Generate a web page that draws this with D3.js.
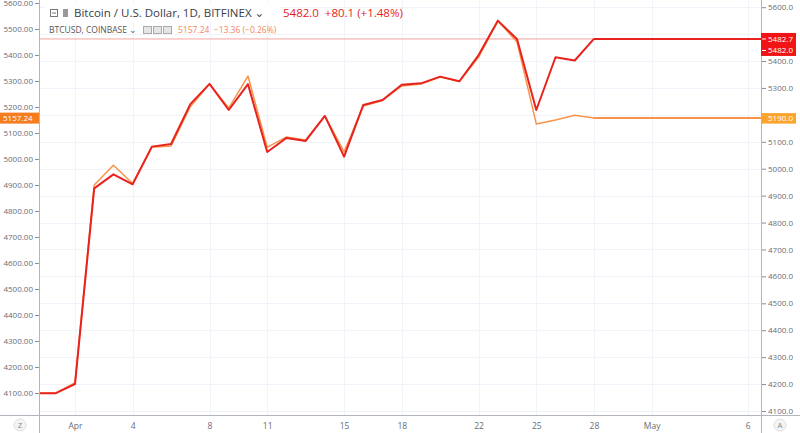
<!DOCTYPE html>
<html><head><meta charset="utf-8">
<script src="https://cdnjs.cloudflare.com/ajax/libs/d3/7.8.5/d3.min.js"></script>
<style>
html,body{margin:0;padding:0;background:#fff;}
svg{display:block;font-family:"Open Sans","DejaVu Sans",sans-serif;}
</style></head>
<body>
<svg id="chart" width="800" height="433"></svg>
<script>
// ---- data ----
const dates = ["2019-03-30","2019-03-31","2019-04-01","2019-04-02","2019-04-03","2019-04-04","2019-04-05","2019-04-06","2019-04-07","2019-04-08","2019-04-09","2019-04-10","2019-04-11","2019-04-12","2019-04-13","2019-04-14","2019-04-15","2019-04-16","2019-04-17","2019-04-18","2019-04-19","2019-04-20","2019-04-21","2019-04-22","2019-04-23","2019-04-24","2019-04-25","2019-04-26","2019-04-27","2019-04-28"];
const bitfinex = [4166,4166,4200,4927,4979,4942,5082,5092,5240,5315,5218,5314,5062,5114,5103,5196,5045,5237,5255,5312,5317,5342,5325,5422,5550,5481,5218,5414,5402,5482];
const coinbase = [4099,4099,4140,4900,4976,4906,5045,5050,5201,5288,5196,5319,5045,5085,5073,5165,5028,5204,5225,5281,5288,5315,5298,5392,5531,5450,5135,5150,5168,5157.24];
const xTickDates = ["2019-04-01","2019-04-04","2019-04-08","2019-04-11","2019-04-15","2019-04-18","2019-04-22","2019-04-25","2019-04-28","2019-05-01","2019-05-06"];
const xTickLabels = ["Apr","4","8","11","15","18","22","25","28","May","6"];
const yTicks = [4100,4200,4300,4400,4500,4600,4700,4800,4900,5000,5100,5200,5300,5400,5500,5600];
const xDomain = ["2019-03-30T03:03:00Z","2019-05-06T16:36:00Z"];
const yRightDomain = [4085.1, 5626.7];
const yLeftDomain = [4015.4, 5611.5];
const mainTitle = "Bitcoin / U.S. Dollar, 1D, BITFINEX";
const mainQuote = "5482.0  +80.1 (+1.48%)";
const compTitle = "BTCUSD, COINBASE";
const compQuote = "5157.24  \u221213.36 (\u22120.26%)";
const rightLabelsRed = ["5482.7","5482.0"];
const rightLabelOrange = "5190.0";
const leftLabelOrange = "5157.24";

// ---- layout ----
const W = 800, H = 433;
const L = 39, R = 761, T = 0, B = 415;
const RED = "#e8221e", ORANGE = "#f7934a";

const svg = d3.select("#chart");
const parse = d3.utcParse("%Y-%m-%d");
const dts = dates.map(parse);

const x = d3.scaleUtc().domain(xDomain.map(d => new Date(d))).range([L, R]);
const yR = d3.scaleLinear().domain(yRightDomain).range([B, T]);
const yL = d3.scaleLinear().domain(yLeftDomain).range([B, T]);

svg.append("rect").attr("width", W).attr("height", H).attr("fill", "#fff");

svg.append("clipPath").attr("id","clip").append("rect")
  .attr("x", L).attr("y", T).attr("width", R - L).attr("height", B - T);

// grid
const grid = svg.append("g");
grid.selectAll("line.h").data(yTicks).join("line")
  .attr("x1", L).attr("x2", R)
  .attr("y1", d => Math.round(yR(d)) + 0.5).attr("y2", d => Math.round(yR(d)) + 0.5)
  .attr("stroke", "#f0f3fa").attr("stroke-width", 1);
const xt = xTickDates.map(parse);
grid.selectAll("line.v").data(xt).join("line")
  .attr("y1", T).attr("y2", B)
  .attr("x1", d => Math.round(x(d)) + 0.5).attr("x2", d => Math.round(x(d)) + 0.5)
  .attr("stroke", "#f0f3fa").attr("stroke-width", 1);

const lastR = bitfinex[bitfinex.length - 1];
const lastC = coinbase[coinbase.length - 1];
svg.append("line").attr("x1", L).attr("x2", R)
  .attr("y1", yR(lastR)).attr("y2", yR(lastR))
  .attr("stroke", "#f4a3a0").attr("stroke-width", 1);

const plot = svg.append("g").attr("clip-path", "url(#clip)");
const lastDate = dts[dts.length - 1];

// coinbase (left scale)
const lineC = d3.line().x((d, i) => x(dts[i])).y(d => yL(d));
plot.append("path").datum(coinbase).attr("d", lineC)
  .attr("fill", "none").attr("stroke", ORANGE).attr("stroke-width", 1.5).attr("stroke-linejoin","round");
plot.append("line").attr("x1", x(lastDate)).attr("x2", R)
  .attr("y1", yL(lastC)).attr("y2", yL(lastC))
  .attr("stroke", ORANGE).attr("stroke-width", 2);

// bitfinex (right scale)
const lineR = d3.line().x((d, i) => x(dts[i])).y(d => yR(d));
plot.append("path").datum(bitfinex).attr("d", lineR)
  .attr("fill", "none").attr("stroke", RED).attr("stroke-width", 2).attr("stroke-linejoin","round");
plot.append("line").attr("x1", x(lastDate)).attr("x2", R)
  .attr("y1", yR(lastR)).attr("y2", yR(lastR))
  .attr("stroke", RED).attr("stroke-width", 2);

// axes lines
svg.append("line").attr("x1", L + 0.5).attr("x2", L + 0.5).attr("y1", 0).attr("y2", H).attr("stroke", "#b2b5be");
svg.append("line").attr("x1", R + 0.5).attr("x2", R + 0.5).attr("y1", 0).attr("y2", H).attr("stroke", "#b2b5be");
svg.append("line").attr("x1", 0).attr("x2", W).attr("y1", B + 0.5).attr("y2", B + 0.5).attr("stroke", "#b2b5be");

const ry = yR(lastR);
const oy = yL(lastC);
const ly = yL(lastC);

// left axis (hide tick labels covered by the orange value box)
const la = svg.append("g").attr("transform", `translate(${L},0)`)
  .call(d3.axisLeft(yL).tickValues(yTicks).tickFormat(d3.format(".2f")).tickSize(4).tickPadding(2));
la.select(".domain").remove();
la.selectAll("line").attr("stroke", "#8a8e99");
la.selectAll("text").attr("fill", "#6a6d78").style("font-size", "8px").style("font-family", "'Open Sans',sans-serif");
la.selectAll(".tick").filter(d => Math.abs(yL(d) - ly) < 9).select("text").remove();

// right axis (hide tick labels covered by value boxes)
const ra = svg.append("g").attr("transform", `translate(${R + 1},0)`)
  .call(d3.axisRight(yR).tickValues(yTicks).tickFormat(d3.format(".1f")).tickSize(4).tickPadding(2));
ra.select(".domain").remove();
ra.selectAll("line").attr("stroke", "#8a8e99");
ra.selectAll("text").attr("fill", "#6a6d78").style("font-size", "8px").style("font-family", "'Open Sans',sans-serif");
ra.selectAll(".tick").filter(d => {
  const yy = yR(d);
  return (yy > ry - 10 && yy < ry + 21) || Math.abs(yy - oy) < 9;
}).select("text").remove();

// bottom axis
const ba = svg.append("g").attr("transform", `translate(0,${B})`)
  .call(d3.axisBottom(x).tickValues(xt).tickFormat((d, i) => xTickLabels[i]).tickSize(0).tickPadding(8));
ba.select(".domain").remove();
ba.selectAll("text").attr("fill", "#6a6d78").style("font-size", "8.5px").style("font-family", "'Open Sans',sans-serif");

// left orange label
svg.append("rect").attr("x", 0).attr("y", ly - 5.5).attr("width", L).attr("height", 11).attr("fill", "#f57c1f");
svg.append("text").attr("x", 3).attr("y", ly + 3).text(leftLabelOrange)
  .attr("fill", "#fff").style("font-size", "8px");

// right labels
svg.append("rect").attr("x", R).attr("y", ry - 6).attr("width", 35).attr("height", 23).attr("fill", "#f01414");
rightLabelsRed.forEach((t, i) => {
  svg.append("text").attr("x", R + 7).attr("y", ry + 3 + i * 11.5).text(t)
    .attr("fill", "#fff").style("font-size", "8px");
  svg.append("line").attr("x1", R + 1).attr("x2", R + 5).attr("y1", ry + i * 11.5).attr("y2", ry + i * 11.5).attr("stroke", "#fff");
});
svg.append("rect").attr("x", R).attr("y", oy - 5).attr("width", 35).attr("height", 10.5).attr("fill", "#fca52c");
svg.append("text").attr("x", R + 7).attr("y", oy + 3).text(rightLabelOrange)
  .attr("fill", "#fff").style("font-size", "8px");

// header legend
svg.append("rect").attr("x", 45).attr("y", 3).attr("width", 236).attr("height", 19).attr("fill", "#fff").attr("opacity", 0.9);
svg.append("rect").attr("x", 50.5).attr("y", 9.5).attr("width", 7).attr("height", 7).attr("fill", "none").attr("stroke", "#777");
svg.append("line").attr("x1", 52).attr("x2", 56).attr("y1", 13).attr("y2", 13).attr("stroke", "#777");
svg.append("rect").attr("x", 63).attr("y", 9).attr("width", 5).attr("height", 8).attr("fill", "#999");
svg.append("text").attr("x", 74).attr("y", 17).text(mainTitle + " \u2304")
  .attr("fill", "#3a3d47").style("font-size", "11.5px");
svg.append("text").attr("x", 283).attr("y", 17).text(mainQuote)
  .attr("fill", "#e81c1c").style("font-size", "11.5px").style("white-space","pre");

svg.append("text").attr("x", 49).attr("y", 33).text(compTitle + " \u2304")
  .attr("fill", "#555").style("font-size", "8.5px");
[143, 153, 163].forEach(px => {
  svg.append("rect").attr("x", px + 0.5).attr("y", 26.5).attr("width", 8).attr("height", 7)
    .attr("fill", "#e5e5e5").attr("stroke", "#aaa");
});
svg.append("text").attr("x", 178).attr("y", 33).text(compQuote)
  .attr("fill", "#f3845f").style("font-size", "8.5px").style("white-space","pre");

// corner buttons
svg.append("circle").attr("cx", 20).attr("cy", 425).attr("r", 6).attr("fill", "#f4f4f6").attr("stroke", "#e0e0e0");
svg.append("text").attr("x", 20).attr("y", 428).attr("text-anchor", "middle").text("Z").attr("fill", "#888").style("font-size", "8px");
svg.append("circle").attr("cx", 780).attr("cy", 425).attr("r", 6).attr("fill", "#f4f4f6").attr("stroke", "#e0e0e0");
svg.append("text").attr("x", 780).attr("y", 428).attr("text-anchor", "middle").text("A").attr("fill", "#888").style("font-size", "8px");
</script>
</body></html>
